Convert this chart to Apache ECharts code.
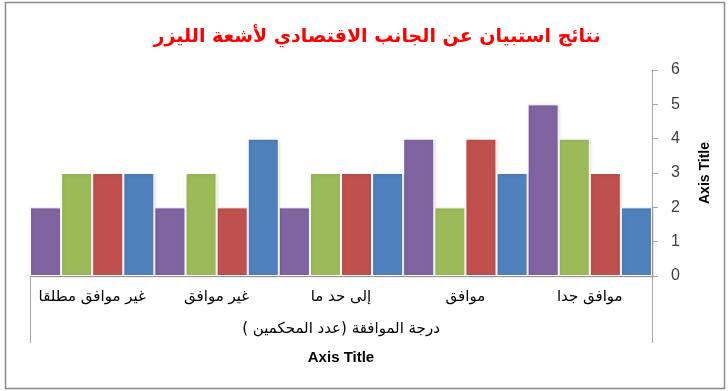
<!DOCTYPE html>
<html><head><meta charset="utf-8">
<script src="https://cdn.jsdelivr.net/npm/echarts@6/dist/echarts.min.js"></script>
<style>html,body{margin:0;padding:0;background:#fff}#c{width:728px;height:391px}</style>
</head><body><div id="c"></div>
<script>
var titleText = 'نتائج استبيان عن الجانب الاقتصادي لأشعة الليزر';
var categories = ['غير موافق مطلقا', 'غير موافق', 'إلى حد ما', 'موافق', 'موافق جدا'];
var groupLabel = ['درجة الموافقة (عدد المحكمين )'];
var seriesPurple = [2, 2, 2, 4, 5];
var seriesGreen  = [3, 3, 3, 2, 4];
var seriesRed    = [3, 2, 3, 4, 3];
var seriesBlue   = [3, 4, 3, 3, 2];
var yTicks = [0, 6, 1];
var colors = ['#8064A2', '#9BBB59', '#C0504D', '#4F81BD'];
var seriesData = [seriesPurple, seriesGreen, seriesRed, seriesBlue];
var arabicFont = '"DejaVu Sans", "Noto Sans", sans-serif';
var latinFont = '"Liberation Sans", Arial, sans-serif';

var chart = echarts.init(document.getElementById('c'));
chart.setOption({
  animation: false,
  title: {
    text: titleText, left: 372, textAlign: 'center', top: 23,
    textStyle: { color: '#FF0000', fontSize: 19, fontWeight: 'bold', fontFamily: arabicFont }
  },
  grid: { left: 30, right: 76, top: 70, bottom: 115 },
  graphic: [{
    type: 'rect', shape: { x: 5.5, y: 2.5, width: 719, height: 386 },
    style: { fill: 'none', stroke: '#8a8a8a', lineWidth: 1.5 }, silent: true
  }],
  xAxis: [{
    type: 'category', data: categories, position: 'bottom', offset: 0,
    axisLine: { lineStyle: { color: '#a6a6a6', width: 1 } },
    axisTick: { show: false },
    axisLabel: { color: '#000', fontSize: 15, margin: 14, fontFamily: arabicFont, interval: 0 }
  }, {
    type: 'category', data: groupLabel, position: 'bottom', offset: 0,
    axisLine: { show: false },
    axisTick: { show: true, length: 67, lineStyle: { color: '#a6a6a6' } },
    axisLabel: { color: '#000', fontSize: 15, margin: 46, fontFamily: arabicFont },
    name: 'Axis Title', nameLocation: 'middle', nameGap: 74,
    nameTextStyle: { color: '#000', fontSize: 15, fontWeight: 'bold', fontFamily: latinFont }
  }],
  yAxis: {
    type: 'value', position: 'right', min: yTicks[0], max: yTicks[1], interval: yTicks[2],
    axisLine: { show: true, lineStyle: { color: '#a6a6a6' } },
    axisTick: { show: true, length: 6, lineStyle: { color: '#a6a6a6' } },
    splitLine: { show: false },
    axisLabel: { color: '#404040', fontSize: 16, margin: 19, fontFamily: latinFont },
    name: 'Axis Title', nameLocation: 'middle', nameGap: 46, nameRotate: 90,
    nameTextStyle: { color: '#000', fontSize: 14, fontWeight: 'bold', fontFamily: latinFont }
  },
  series: seriesData.map(function (d, i) {
    return {
      type: 'bar', name: 'Series ' + (i + 1), data: d, xAxisIndex: 0,
      barGap: '0%', barCategoryGap: '0%',
      itemStyle: { color: colors[i], borderColor: '#fff', borderWidth: 1,
        shadowColor: 'rgba(0,0,0,0.15)', shadowBlur: 3, shadowOffsetX: 1, shadowOffsetY: 1 }
    };
  })
});
</script></body></html>
